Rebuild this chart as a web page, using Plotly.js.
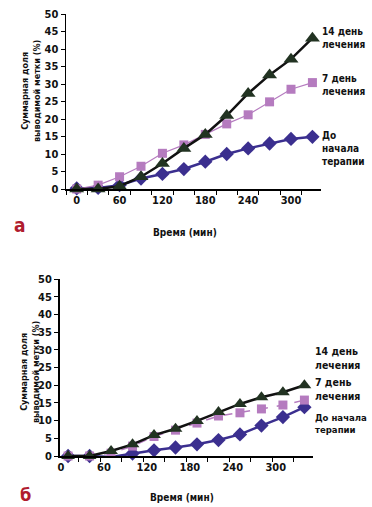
<!DOCTYPE html>
<html>
<head>
<meta charset="utf-8">
<script src="https://cdn.plot.ly/plotly-3.0.1.min.js"></script>
<style>html,body{margin:0;padding:0;background:#fff;}#chart{width:372px;height:507px;}</style>
</head>
<body>
<div id="chart"></div>
<script>
// Panel а (x in minutes)
const timeA = [0, 30, 60, 90, 120, 150, 180, 210, 240, 270, 300, 330];
const beforeA = [0.2, 0.3, 1.1, 3.0, 4.3, 5.7, 7.8, 10.0, 11.6, 13.0, 14.3, 14.9];
const day7A = [0, 1.1, 3.5, 6.5, 10.2, 12.6, 15.6, 18.6, 21.2, 24.9, 28.5, 30.4];
const day14A = [0, 0, 0.8, 3.5, 7.3, 11.6, 15.6, 21.0, 27.3, 32.6, 37.1, 43.1];

// Panel б
const timeB = [10, 40, 70, 100, 130, 160, 190, 220, 250, 280, 310, 340];
const beforeB = [0, 0, -0.3, 0.7, 1.6, 2.4, 3.3, 4.5, 6.1, 8.6, 11.0, 13.8];
const day7B = [0, 0, 0.8, 2.8, 5.5, 7.3, 9.3, 11.3, 12.2, 13.3, 14.4, 15.8];
const day14B = [0, 0, 1.4, 3.3, 5.9, 7.7, 9.9, 12.4, 14.7, 16.6, 18.0, 20.0];

const xLabels = [0, 60, 120, 180, 240, 300];
const yTicks = [0, 5, 10, 15, 20, 25, 30, 35, 40, 45, 50];

const cTri = '#223322', cTriLine = '#111111';
const cSq = '#b57bbf';
const cDia = '#3b2f8f';
const FONT = '"DejaVu Sans Condensed", "DejaVu Sans", sans-serif';

function f(size, color) {
  return {family: FONT, size: size, color: color || '#111', weight: 'bold', stretch: 'condensed'};
}

function tr(x, y, xa, ya, name, color, lineColor, lw, sym, size, dash) {
  return {
    x: x, y: y, xaxis: xa, yaxis: ya, name: name, type: 'scatter', mode: 'lines+markers',
    line: {color: lineColor, width: lw, dash: dash || 'solid'},
    marker: {symbol: sym, size: size, color: color, line: {width: 0}},
    cliponaxis: false, showlegend: false, hoverinfo: 'skip'
  };
}

const data = [
  tr(timeA, beforeA, 'x', 'y', 'До начала терапии', cDia, cDia, 2.5, 'diamond', 11),
  tr(timeA, day7A, 'x', 'y', '7 день лечения', cSq, cSq, 1.2, 'square', 9),
  tr(timeA, day14A, 'x', 'y', '14 день лечения', cTri, cTriLine, 2.5, 'triangle-up', 13),
  tr(timeB, beforeB, 'x2', 'y2', 'До начала терапии', cDia, cDia, 2.5, 'diamond', 11),
  tr(timeB, day7B, 'x2', 'y2', '7 день лечения', cSq, cSq, 1.5, 'square', 9, 'dash'),
  tr(timeB, day14B, 'x2', 'y2', '14 день лечения', cTri, cTriLine, 2.5, 'triangle-up', 12)
];

function xax(domain, range, minor0, anchor) {
  return {
    domain: domain, range: range, anchor: anchor,
    tickmode: 'array', tickvals: xLabels, ticktext: xLabels.map(String),
    ticks: 'outside', ticklen: 0, tickcolor: '#000',
    minor: {ticks: 'outside', ticklen: 4, tickcolor: '#000', tickmode: 'linear', tick0: minor0, dtick: 30, showgrid: false},
    showline: true, linecolor: '#000', linewidth: 1.5,
    showgrid: false, zeroline: false,
    tickfont: f(11)
  };
}
function yax(domain, anchor) {
  return {
    domain: domain, range: [0, 50], anchor: anchor,
    tickmode: 'array', tickvals: yTicks, ticktext: yTicks.map(String),
    ticks: 'outside', ticklen: 4, tickcolor: '#000',
    showline: true, linecolor: '#000', linewidth: 1.5,
    showgrid: false, zeroline: false,
    tickfont: f(11)
  };
}

function ann(text, x, y, opts) {
  return Object.assign({
    text: text, xref: 'paper', yref: 'paper', x: x, y: y,
    xanchor: 'left', yanchor: 'middle', showarrow: false, align: 'left',
    font: f(10)
  }, opts || {});
}

const W = 372, H = 507;
const px = v => v / W, py = v => 1 - v / H;

const layout = {
  width: W, height: H,
  margin: {l: 0, r: 0, t: 0, b: 0},
  paper_bgcolor: '#fff', plot_bgcolor: '#fff',
  xaxis: xax([px(66), px(321)], [-15, 342], -15, 'y'),
  yaxis: yax([py(189), py(14)], 'x'),
  xaxis2: xax([px(59.5), px(313)], [-2, 352], 25, 'y2'),
  yaxis2: yax([py(456), py(279)], 'x2'),
  annotations: [
    ann('14 день<br>лечения', px(320), py(38)),
    ann('7 день<br>лечения', px(320), py(85)),
    ann('До<br>начала<br>терапии', px(320), py(149)),
    ann('Время (мин)', px(185), py(232), {xanchor: 'center'}),
    ann('Суммарная доля<br>выводимой метки (%)', px(31), py(91), {xanchor: 'center', textangle: -90, align: 'center', font: f(9)}),
    ann('а', px(20), py(225), {xanchor: 'center', font: f(19, '#b01c2e')}),

    ann('14 день<br>лечения', px(313), py(357.5), {font: f(10.5)}),
    ann('7 день<br>лечения', px(313), py(389), {font: f(10.5)}),
    ann('До начала<br>терапии', px(313), py(423.5), {font: f(9.5)}),
    ann('Время (мин)', px(182), py(497), {xanchor: 'center'}),
    ann('Суммарная доля<br>выводимой метки (%)', px(30), py(372), {xanchor: 'center', textangle: -90, align: 'center', font: f(9)}),
    ann('б', px(25), py(494), {xanchor: 'center', font: f(18, '#b01c2e')})
  ]
};

Plotly.newPlot('chart', data, layout, {staticPlot: true, displayModeBar: false});
</script>
</body>
</html>
